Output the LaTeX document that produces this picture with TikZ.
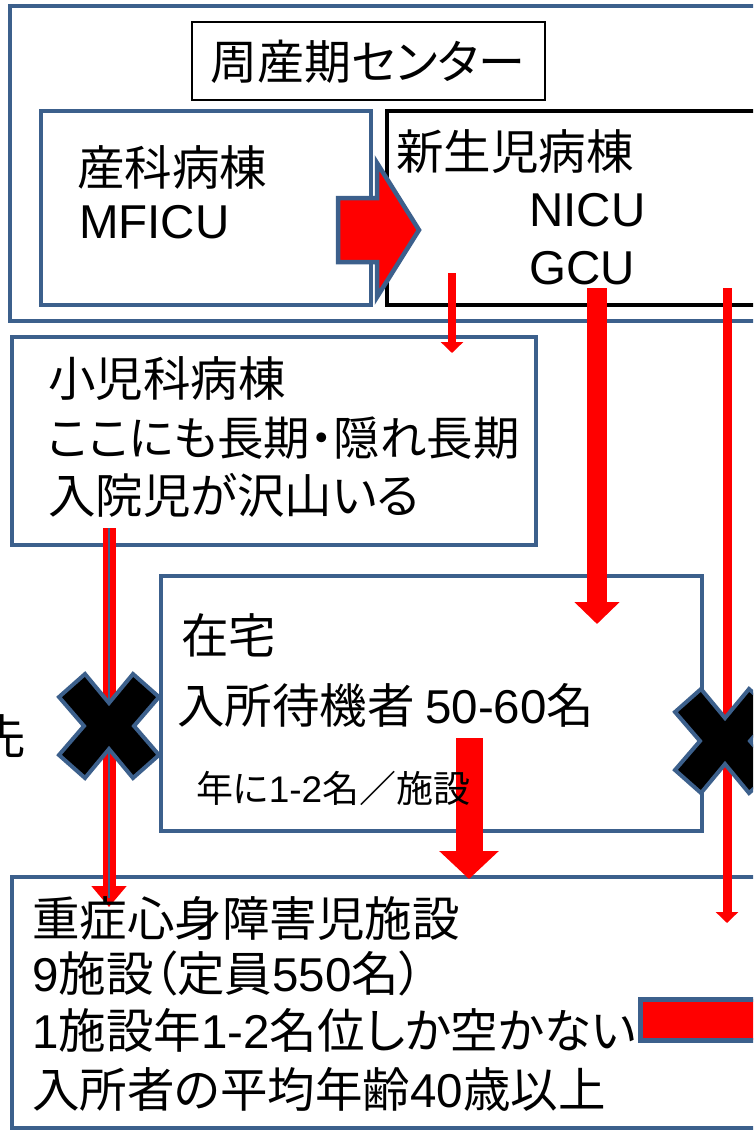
\documentclass[tikz,border=0pt]{standalone}
\usepackage{fontspec}
\setmainfont{Noto Sans CJK JP}[RawFeature={+palt}]
\newfontfamily\ar{Liberation Sans}
\usetikzlibrary{arrows.meta}
\definecolor{bblue}{RGB}{60,96,140}
\definecolor{rred}{RGB}{255,0,0}
\tikzset{
  bbox/.style={draw=bblue, line width=4.5pt, fill=none, inner sep=0pt, outer sep=0pt, anchor=north west},
  kbox/.style={draw=black, line width=4.5pt, inner sep=0pt, outer sep=0pt, anchor=north west},
  tbox/.style={draw=black, line width=1.5pt, inner sep=0pt, outer sep=0pt, anchor=north west},
  txt/.style={anchor=west, inner sep=0pt, font=\fontsize{47.5}{50}\selectfont},
  smalltxt/.style={anchor=west, inner sep=0pt, font=\fontsize{37}{40}\selectfont},
  redarrow/.style={draw=rred, line cap=butt},
  xmk/.pic={\draw[draw=bblue, line width=4pt, fill=black, line join=miter]
    (0,-23) -- (24,-52) -- (50,-29) -- (25,0) -- (50,29) -- (24,52) -- (0,23)
    -- (-24,52) -- (-50,29) -- (-25,0) -- (-50,-29) -- (-24,-52) -- cycle;}
}
\begin{document}
\begin{tikzpicture}[x=1pt,y=-1pt]
\useasboundingbox (0,0) rectangle (753,1130);
\clip (0,0) rectangle (753,1130);
\fill[white] (0,0) rectangle (753,1130);

% boxes
\node[bbox, minimum width=790pt, minimum height=315pt] (center) at (10,6) {};
\node[tbox, minimum width=353pt, minimum height=78pt] (titlebox) at (192,22) {};
\node[bbox, minimum width=330pt, minimum height=194pt] (sanka) at (41,111) {};
\node[kbox, minimum width=420pt, minimum height=194pt] (shinsei) at (387,111) {};
\node[bbox, minimum width=524pt, minimum height=208pt] (shoni) at (12,337) {};
\node[bbox, minimum width=541pt, minimum height=255pt] (zaitaku) at (161,576) {};
\node[bbox, minimum width=800pt, minimum height=251pt] (juusho) at (12,877) {};

% connector coordinates
\coordinate (a1s) at (452,273);
\coordinate (a1e) at (452,353);
\coordinate (a2s) at (597,288);
\coordinate (a2e) at (597,624);
\coordinate (a3s) at (727,288);
\coordinate (a3e) at (727,923);
\coordinate (a4s) at (469,738);
\coordinate (a4e) at (469,879);
\coordinate (hs) at (109,528);
\coordinate (he) at (109,907);
\coordinate (hb) at (109,898);

% arrows
\draw[redarrow, line width=8pt, -{Triangle[width=22pt,length=11pt]}] (a1s) -- (a1e);
\draw[redarrow, line width=20pt, -{Triangle[width=44pt,length=22pt]}] (a2s) -- (a2e);
\draw[redarrow, line width=9pt, -{Triangle[width=22pt,length=11pt]}] (a3s) -- (a3e);
\draw[redarrow, line width=27pt, -{Triangle[width=58pt,length=28pt]}] (a4s) -- (a4e);
\draw[redarrow, line width=13pt, -{Triangle[width=34pt,length=21pt]}] (hs) -- (he);
\draw[draw=bblue, line width=2.5pt] (hs) -- (hb);

% X marks
\pic at (109,726) {xmk};
\pic at (725,741) {xmk};

% block arrow MFICU -> NICU
\draw[fill=rred, draw=bblue, line width=4.5pt, line join=miter] (338,198) -- (377,198) -- (377,163) -- (419,230) -- (377,297) -- (377,262) -- (338,262) -- cycle;

% red bar bottom right
\node[draw=bblue, fill=rred, line width=5pt, inner sep=0pt, outer sep=0pt, anchor=north west, minimum width=150pt, minimum height=41pt] (bar) at (640,999) {};

% texts
\node[anchor=center, inner sep=0pt, font=\fontsize{47}{50}\selectfont] (title) at (368,62) {周産期センター};
\node[txt] (t1) at (77,167) {産科病棟};
\node[txt] (t2) at (79,222) {\ar MFICU};
\node[txt] (t3) at (396,152) {新生児病棟};
\node[txt] (t4) at (529,210) {\ar NICU};
\node[txt] (t5) at (529,268) {\ar GCU};
\node[txt] (t6) at (48,379) {小児科病棟};
\node[txt, font=\fontsize{46.5}{50}\selectfont] (t7) at (48,438) {ここにも長期・隠れ長期};
\node[txt] (t8) at (48,495) {入院児が沢山いる};
\node[txt] (t9) at (181,635) {在宅};
\node[txt] (t10) at (177,705) {入所待機者 {\ar 50-60}名};
\node[smalltxt] (t11) at (196,788) {年に{\ar 1-2}名／施設};
\node[txt] (t12) at (32,918) {重症心身障害児施設};
\node[txt] (t13) at (32,973) {{\ar 9}施設（定員{\ar 550}名）};
\node[txt] (t14) at (32,1030) {{\ar 1}施設年{\ar 1-2}名位しか空かない};
\node[txt] (t15) at (32,1089) {入所者の平均年齢{\ar 40}歳以上};
\node[txt, anchor=east] (t16) at (26,737) {先};
\end{tikzpicture}
\end{document}
